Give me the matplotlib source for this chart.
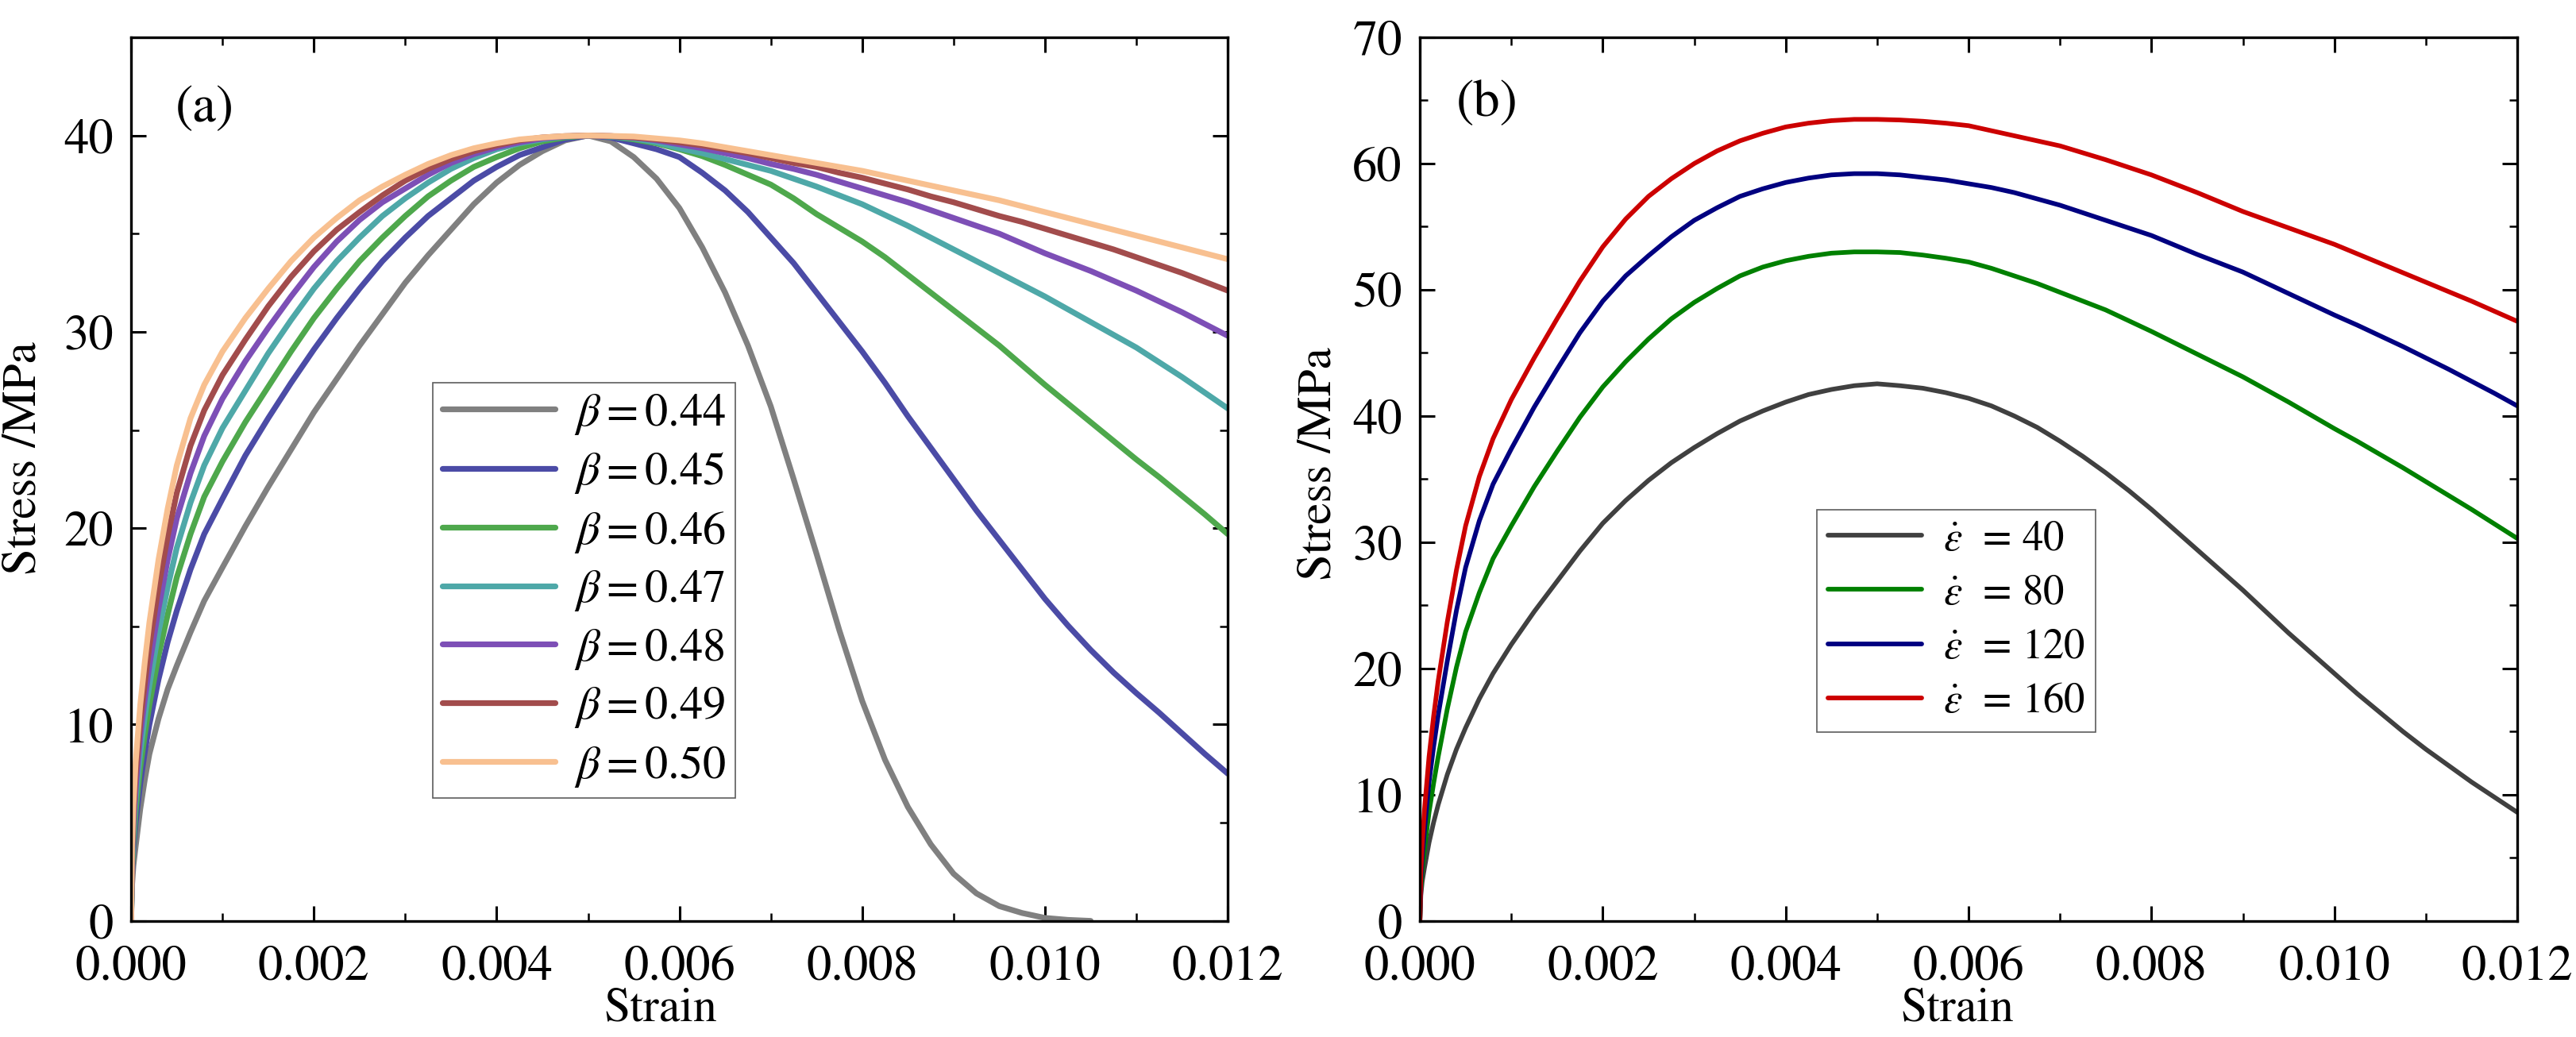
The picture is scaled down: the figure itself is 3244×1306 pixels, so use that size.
import matplotlib
matplotlib.use('Agg')
import matplotlib.pyplot as plt
from matplotlib.ticker import MultipleLocator

plt.rcParams['font.family'] = ['STIXGeneral', 'DejaVu Serif']
plt.rcParams['mathtext.fontset'] = 'stix'

# ---- data ----
strain = [0, 1e-5, 2.5e-5, 5e-5, 1e-4, 1.5e-4, 2e-4, 3e-4, 4e-4, 5e-4, 6.5e-4, 8e-4,
          0.001, 0.00125, 0.0015, 0.00175, 0.002, 0.00225, 0.0025, 0.00275,
          0.003, 0.00325, 0.0035, 0.00375, 0.004, 0.00425, 0.0045, 0.00475,
          0.005, 0.00525, 0.0055, 0.00575, 0.006, 0.00625, 0.0065, 0.00675,
          0.007, 0.00725, 0.0075, 0.00775, 0.008, 0.00825, 0.0085, 0.00875,
          0.009, 0.00925, 0.0095, 0.00975, 0.01, 0.01025, 0.0105, 0.01075,
          0.011, 0.01125, 0.0115, 0.01175, 0.012]

# (a) stress (MPa) for different beta
beta_labels = ['0.44', '0.45', '0.46', '0.47', '0.48', '0.49', '0.50']
stress_b044 = [0, 1.8, 2.8, 3.8, 5.7, 7.2, 8.5, 10.3, 11.8, 13.0, 14.7, 16.3,
               18.0, 20.1, 22.1, 24.0, 25.9, 27.6, 29.3, 30.9, 32.5, 33.9, 35.2, 36.5,
               37.6, 38.5, 39.2, 39.75, 40.0, 39.7, 38.9, 37.8, 36.3, 34.3, 32.0, 29.3,
               26.2, 22.5, 18.7, 14.8, 11.2, 8.2, 5.8, 3.9, 2.4, 1.4, 0.75, 0.4,
               0.15, 0.05, 0.0]
stress_b045 = [0, 2.3, 3.6, 5.0, 7.0, 8.6, 10.0, 12.3, 14.2, 15.8, 17.9, 19.7,
               21.5, 23.7, 25.6, 27.4, 29.1, 30.7, 32.2, 33.6, 34.8, 35.9, 36.8, 37.7,
               38.4, 39.0, 39.4, 39.8, 40.0, 39.9, 39.6, 39.3, 38.9, 38.1, 37.2, 36.1,
               34.8, 33.5, 32.0, 30.5, 29.0, 27.4, 25.7, 24.1, 22.5, 20.9, 19.4, 17.9,
               16.4, 15.05, 13.8, 12.65, 11.6, 10.6, 9.55, 8.5, 7.5]
stress_b046 = [0, 2.6, 4.0, 5.6, 7.8, 9.5, 11.0, 13.5, 15.6, 17.5, 19.7, 21.6,
               23.4, 25.4, 27.2, 29.0, 30.7, 32.2, 33.6, 34.8, 35.9, 36.9, 37.7, 38.4,
               38.9, 39.35, 39.7, 39.9, 40.0, 39.95, 39.8, 39.6, 39.3, 38.95, 38.5, 38.0,
               37.5, 36.8, 36.0, 35.3, 34.6, 33.8, 32.9, 32.0, 31.1, 30.2, 29.3, 28.3,
               27.3, 26.35, 25.4, 24.45, 23.5, 22.6, 21.65, 20.7, 19.7]
stress_b047 = [0, 2.9, 4.5, 6.2, 8.6, 10.4, 12.0, 14.7, 17.0, 19.0, 21.3, 23.2,
               25.1, 27.0, 28.9, 30.6, 32.2, 33.6, 34.8, 35.9, 36.8, 37.6, 38.3, 38.85,
               39.3, 39.6, 39.8, 39.95, 40.0, 39.95, 39.85, 39.65, 39.35, 39.1, 38.8, 38.5,
               38.2, 37.8, 37.4, 36.95, 36.5, 35.95, 35.4, 34.8, 34.2, 33.6, 33.0, 32.4,
               31.8, 31.15, 30.5, 29.85, 29.2, 28.45, 27.7, 26.9, 26.1]
stress_b048 = [0, 3.2, 4.9, 6.8, 9.4, 11.3, 13.0, 15.9, 18.4, 20.5, 22.8, 24.7,
               26.6, 28.5, 30.2, 31.8, 33.3, 34.6, 35.7, 36.6, 37.3, 38.0, 38.6, 39.05,
               39.4, 39.65, 39.85, 39.95, 40.0, 39.97, 39.9, 39.75, 39.55, 39.35, 39.1, 38.85,
               38.55, 38.3, 38.0, 37.65, 37.3, 36.95, 36.6, 36.2, 35.8, 35.4, 35.0, 34.5,
               34.0, 33.55, 33.1, 32.6, 32.1, 31.55, 31.0, 30.4, 29.8]
stress_b049 = [0, 3.5, 5.3, 7.4, 10.1, 12.1, 14.0, 17.0, 19.6, 21.8, 24.2, 26.0,
               27.8, 29.6, 31.3, 32.8, 34.1, 35.2, 36.1, 36.95, 37.7, 38.3, 38.8, 39.2,
               39.5, 39.75, 39.9, 39.97, 40.0, 39.97, 39.9, 39.8, 39.65, 39.5, 39.3, 39.1,
               38.85, 38.6, 38.4, 38.1, 37.85, 37.55, 37.25, 36.9, 36.6, 36.25, 35.9, 35.6,
               35.25, 34.9, 34.55, 34.2, 33.8, 33.4, 33.0, 32.55, 32.1]
stress_b050 = [0, 3.9, 5.9, 8.1, 11.0, 13.2, 15.2, 18.4, 21.0, 23.2, 25.6, 27.3,
               29.0, 30.7, 32.2, 33.6, 34.8, 35.8, 36.7, 37.4, 38.0, 38.55, 39.0, 39.35,
               39.6, 39.8, 39.9, 39.97, 40.0, 39.98, 39.95, 39.85, 39.75, 39.6, 39.4, 39.2,
               39.0, 38.8, 38.6, 38.4, 38.2, 37.95, 37.7, 37.45, 37.2, 36.95, 36.7, 36.4,
               36.1, 35.8, 35.5, 35.2, 34.9, 34.6, 34.3, 34.0, 33.7]

# (b) stress (MPa) for different strain rates
rate_labels = ['40', '80', '120', '160']
stress_r40 = [0, 2.0, 3.1, 4.2, 6.2, 7.8, 9.2, 11.6, 13.6, 15.3, 17.6, 19.6,
              21.9, 24.5, 26.9, 29.3, 31.5, 33.3, 34.9, 36.3, 37.5, 38.6, 39.6, 40.4,
              41.1, 41.7, 42.1, 42.4, 42.55, 42.4, 42.2, 41.85, 41.4, 40.8, 40.0, 39.1,
              38.0, 36.8, 35.5, 34.1, 32.6, 31.0, 29.4, 27.8, 26.2, 24.5, 22.8, 21.2,
              19.6, 18.0, 16.5, 15.0, 13.6, 12.3, 11.0, 9.8, 8.6]
stress_r80 = [0, 2.6, 4.0, 5.7, 8.6, 10.9, 13.0, 16.8, 20.1, 22.9, 26.0, 28.7,
              31.3, 34.4, 37.2, 39.9, 42.3, 44.3, 46.1, 47.7, 49.0, 50.1, 51.1, 51.8,
              52.3, 52.65, 52.9, 53.0, 53.0, 52.95, 52.75, 52.5, 52.2, 51.7, 51.1, 50.5,
              49.8, 49.1, 48.4, 47.55, 46.7, 45.8, 44.9, 44.0, 43.1, 42.1, 41.1, 40.05,
              39.0, 38.0, 36.95, 35.9, 34.8, 33.7, 32.6, 31.45, 30.3]
stress_r120 = [0, 3.2, 5.0, 7.2, 11.0, 13.8, 16.3, 20.6, 24.6, 28.0, 31.7, 34.6,
               37.4, 40.7, 43.7, 46.6, 49.1, 51.1, 52.7, 54.2, 55.5, 56.5, 57.4, 58.0,
               58.5, 58.85, 59.1, 59.2, 59.2, 59.1, 58.9, 58.7, 58.4, 58.1, 57.7, 57.2,
               56.7, 56.1, 55.5, 54.9, 54.3, 53.55, 52.8, 52.1, 51.4, 50.55, 49.7, 48.85,
               48.0, 47.2, 46.35, 45.5, 44.6, 43.7, 42.75, 41.8, 40.8]
stress_r160 = [0, 3.8, 6.0, 8.8, 13.0, 16.2, 19.0, 23.7, 27.8, 31.3, 35.2, 38.2,
               41.3, 44.6, 47.7, 50.7, 53.4, 55.6, 57.4, 58.8, 60.0, 61.0, 61.8, 62.4,
               62.9, 63.2, 63.4, 63.5, 63.5, 63.45, 63.35, 63.2, 63.0, 62.6, 62.2, 61.8,
               61.4, 60.85, 60.3, 59.7, 59.1, 58.4, 57.7, 56.95, 56.2, 55.55, 54.9, 54.25,
               53.6, 52.85, 52.1, 51.35, 50.6, 49.85, 49.1, 48.3, 47.5]

beta_series = [stress_b044, stress_b045, stress_b046, stress_b047, stress_b048, stress_b049, stress_b050]
beta_colors = ['#808080', '#4b4ba6', '#4ea84c', '#4ea8a8', '#7d4fb6', '#a24c4c', '#f8c090']
rate_series = [stress_r40, stress_r80, stress_r120, stress_r160]
rate_colors = ['#404040', '#008000', '#000080', '#cc0000']

fig = plt.figure(figsize=(32.44, 13.06), dpi=100)
ax1 = fig.add_axes([0.0509, 0.112, 0.4257, 0.852])
ax2 = fig.add_axes([0.5512, 0.112, 0.4260, 0.852])


def style_axis(ax, ymax, ystep):
    ax.set_xlim(0, 0.012)
    ax.set_ylim(0, ymax)
    ax.xaxis.set_major_locator(MultipleLocator(0.002))
    ax.xaxis.set_minor_locator(MultipleLocator(0.001))
    ax.yaxis.set_major_locator(MultipleLocator(ystep))
    ax.yaxis.set_minor_locator(MultipleLocator(ystep / 2))
    ax.xaxis.set_major_formatter(plt.FuncFormatter(lambda v, p: '%.3f' % v))
    ax.tick_params(which='both', direction='in', top=True, right=True)
    ax.tick_params(which='major', length=14, width=2.2, labelsize=45)
    ax.tick_params(axis='x', which='major', pad=22)
    ax.tick_params(axis='y', which='major', pad=16)
    ax.tick_params(which='minor', length=7, width=1.8)
    for sp in ax.spines.values():
        sp.set_linewidth(2.4)
    ax.set_xlabel('Strain', fontsize=43)
    ax.set_ylabel('Stress /MPa', fontsize=44)


for vals, lab, col in zip(beta_series, beta_labels, beta_colors):
    ax1.plot(strain[:len(vals)], vals, color=col, lw=5.2, solid_capstyle='round',
             label=r'$\beta = %s$' % lab)
style_axis(ax1, 45, 10)
ax1.xaxis.set_label_coords(0.483, -0.076)
ax1.yaxis.set_label_coords(-0.078, 0.524)
ax1.text(0.04, 0.919, '(a)', transform=ax1.transAxes, fontsize=48, va='center', ha='left')
leg1 = ax1.legend(loc='upper left', bbox_to_anchor=(0.275, 0.609), borderaxespad=0,
                  fontsize=42, frameon=True, fancybox=False, edgecolor='#333333',
                  handlelength=2.45, handletextpad=0.4, labelspacing=0.3, borderpad=0.2)
leg1.get_frame().set_linewidth(1.2)

for vals, lab, col in zip(rate_series, rate_labels, rate_colors):
    ax2.plot(strain, vals, color=col, lw=4.2, solid_capstyle='round',
             label=r'$\dot{\varepsilon}$  = ' + lab)
style_axis(ax2, 70, 10)
ax2.xaxis.set_label_coords(0.49, -0.076)
ax2.yaxis.set_label_coords(-0.072, 0.517)
ax2.text(0.033, 0.925, '(b)', transform=ax2.transAxes, fontsize=48, va='center', ha='left')
leg2 = ax2.legend(loc='upper left', bbox_to_anchor=(0.362, 0.465), borderaxespad=0,
                  fontsize=38, frameon=True, fancybox=False, edgecolor='#333333',
                  handlelength=2.25, handletextpad=0.5, labelspacing=0.36, borderpad=0.25)
leg2.get_frame().set_linewidth(1.2)

fig.savefig('out.png', dpi=100)
